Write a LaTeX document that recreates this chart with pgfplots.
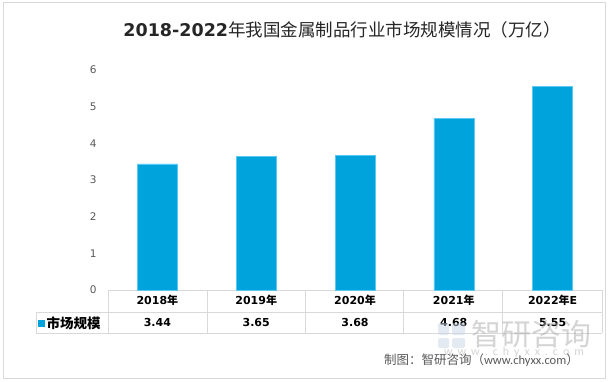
\documentclass[border=0pt]{standalone}
\usepackage{pgfplots}
\pgfplotsset{compat=1.18}
\usepackage{fontspec}
\setmainfont{DejaVu Sans}
\newfontfamily\cjk{Noto Sans CJK SC}
\newfontfamily\carl{Carlito}
\definecolor{barblue}{RGB}{0,163,220}
\definecolor{baredge}{RGB}{90,200,240}
\definecolor{tblgray}{RGB}{217,217,217}
\definecolor{txtgray}{RGB}{89,89,89}
\definecolor{titlecol}{RGB}{38,38,38}
\begin{document}
\begin{tikzpicture}[x=1pt,y=1pt]
% canvas and frame
\path[fill=white] (0,0) rectangle (608,381);
\draw[tblgray,line width=1pt] (3,3) rectangle (605,378);
% title
\node[titlecol,inner sep=0pt] at (342,351) {\fontsize{17.5}{20}\selectfont{\bfseries 2018-2022}{\cjk 年我国金属制品行业市场规模情况（万亿）}};
% table grid
\begin{scope}[tblgray,line width=0.8pt]
\draw (108,91) -- (602,91);
\draw (36,69) -- (602,69);
\draw (36,48) -- (602,48);
\draw (36,69) -- (36,48);
\foreach \x in {108,207,305,403,502,602} {\draw (\x,91) -- (\x,48);}
\end{scope}
\begin{axis}[
  at={(108pt,91pt)}, anchor=south west,
  scale only axis, width=494pt, height=220pt,
  xmin=-0.5, xmax=4.5, ymin=0, ymax=6,
  ytick={0,1,2,3,4,5,6},
  xtick={0,1,2,3,4},
  xticklabels={
    {\bfseries 2018{\cjk 年}\\\bfseries 3.44},
    {\bfseries 2019{\cjk 年}\\\bfseries 3.65},
    {\bfseries 2020{\cjk 年}\\\bfseries 3.68},
    {\bfseries 2021{\cjk 年}\\\bfseries 4.68},
    {\bfseries 2022{\cjk 年}E\\\bfseries 5.55}},
  xticklabel style={align=center, font=\fontsize{11}{22}\selectfont, text=black, yshift=-2pt},
  yticklabel style={font=\fontsize{10.5}{12}\selectfont, text=txtgray, xshift=-8pt},
  /pgf/number format/assume math mode=true,
  axis line style={draw=none},
  major tick length=0pt,
  legend style={at={(-0.142,-0.15)}, anchor=west, draw=none, fill=none,
    font=\fontsize{13.5}{16}\selectfont\cjk\bfseries, inner sep=0pt,
    /tikz/every even column/.append style={column sep=1pt}},
  legend image code/.code={\fill[barblue] (0pt,-3pt) rectangle (6pt,3pt);},
  clip=false,
]
\addplot[ybar, bar width=40pt, fill=barblue, draw=baredge, line width=0.6pt]
  coordinates {(0,3.44) (1,3.65) (2,3.68) (3,4.68) (4,5.55)};
\addlegendentry{市场规模}
\end{axis}
% watermark
\begin{scope}[opacity=0.5]
\fill[rounded corners=1.5pt, color={rgb,255:red,200;green,214;blue,228}] (438,46) rectangle (449,58);
\fill[rounded corners=1.5pt, color={rgb,255:red,200;green,214;blue,228}] (452,46) rectangle (465,58);
\fill[rounded corners=1.5pt, color={rgb,255:red,200;green,214;blue,228}] (438,33) rectangle (449,43);
\fill[rounded corners=1.5pt, color={rgb,255:red,200;green,214;blue,228}] (452,33) rectangle (465,43);
\node[inner sep=0pt, text={rgb,255:red,170;green,170;blue,170}] at (531,47) {\fontsize{30}{32}\selectfont\cjk 智研咨询};
\node[inner sep=0pt, text={rgb,255:red,170;green,170;blue,170}] at (514,29) {\fontsize{12}{12}\selectfont\carl w\hspace{5pt}w\hspace{5pt}w\hspace{5pt}.\hspace{5pt}c\hspace{5pt}h\hspace{5pt}y\hspace{5pt}x\hspace{5pt}x\hspace{5pt}.\hspace{5pt}c\hspace{5pt}o\hspace{5pt}m};
\end{scope}
% source
\node[anchor=east, inner sep=0pt, text=txtgray] at (579,21) {\fontsize{12.5}{14}\selectfont{\cjk 制图：智研咨询（}{\carl www.chyxx.com}{\cjk ）}};
\end{tikzpicture}
\end{document}
